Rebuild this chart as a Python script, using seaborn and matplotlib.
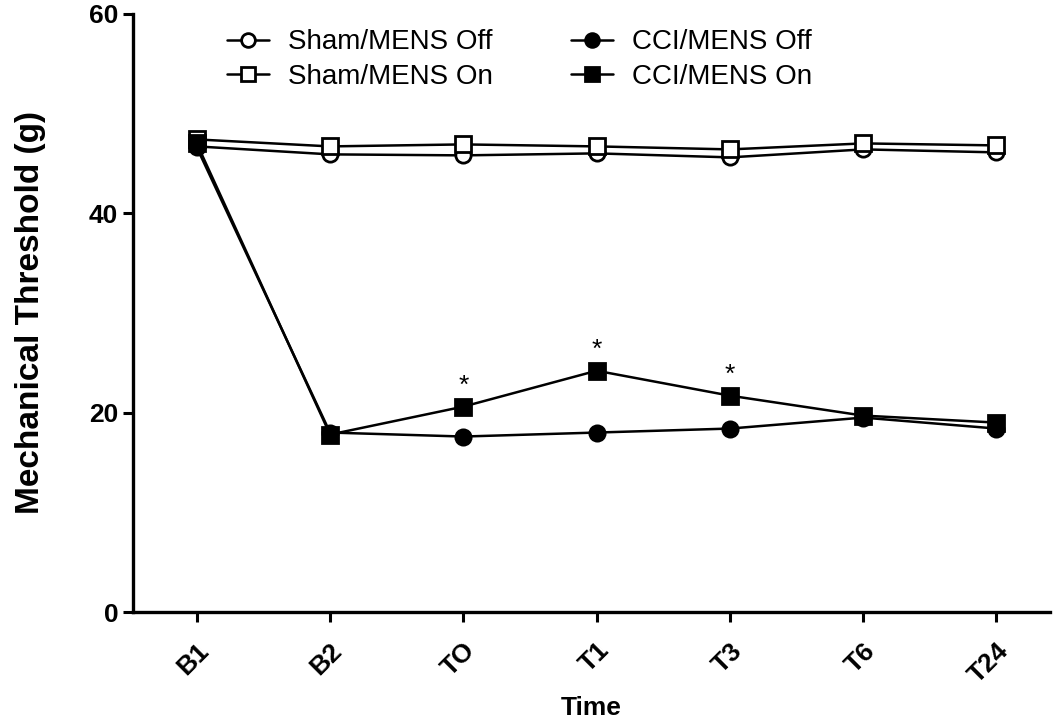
import numpy as np
import pandas as pd
import matplotlib
matplotlib.use("Agg")
import matplotlib.pyplot as plt
import seaborn as sns

# data
times = ["B1", "B2", "TO", "T1", "T3", "T6", "T24"]
sham_off = [46.7, 45.9, 45.8, 46.0, 45.6, 46.4, 46.1]
sham_on = [47.4, 46.7, 46.9, 46.7, 46.4, 47.0, 46.8]
cci_off = [46.6, 18.0, 17.6, 18.0, 18.4, 19.5, 18.4]
cci_on = [47.0, 17.8, 20.6, 24.2, 21.7, 19.7, 19.0]
star_times = ["TO", "T1", "T3"]

series = [
    ("Sham/MENS Off", sham_off, "o", "white"),
    ("Sham/MENS On", sham_on, "s", "white"),
    ("CCI/MENS Off", cci_off, "o", "black"),
    ("CCI/MENS On", cci_on, "s", "black"),
]

sns.set_style("ticks")
plt.rcParams["font.family"] = ["Liberation Sans", "DejaVu Sans"]
for k in ["text.color", "axes.labelcolor", "xtick.color", "ytick.color", "axes.edgecolor"]:
    plt.rcParams[k] = "black"

fig = plt.figure(figsize=(10.54, 7.26), dpi=100)
ax = fig.add_axes([0.126, 0.157, 0.87, 0.824])

for name, vals, mk, fc in series:
    sns.lineplot(x=times, y=vals, ax=ax, sort=False, color="black", lw=1.8,
                 marker=mk, markersize=11, markerfacecolor=fc,
                 markeredgecolor="black", markeredgewidth=2, label=name)

# significance stars above CCI/MENS On
for t in star_times:
    i = times.index(t)
    ax.text(i, cci_on[i] + 0.9, "*", ha="center", va="bottom", fontsize=19)

ax.set_ylim(0, 60)
ax.set_xlim(-0.48, 6.4)
ax.set_yticks([0, 20, 40, 60])
ax.set_xticks(range(len(times)))
ax.set_xticklabels(times, rotation=45, ha="right", rotation_mode="anchor")

for s in ["top", "right"]:
    ax.spines[s].set_visible(False)
for s in ["left", "bottom"]:
    ax.spines[s].set_linewidth(2.4)
ax.tick_params(width=2.2, length=7, labelsize=19)
ax.tick_params(axis="x", pad=12)
for lab in ax.get_xticklabels() + ax.get_yticklabels():
    lab.set_fontweight("bold")

ax.set_xlabel("Time", fontsize=19, fontweight="bold", labelpad=6)
ax.set_ylabel("Mechanical Threshold (g)", fontsize=24, fontweight="bold", labelpad=31)

ax.legend(ncol=2, frameon=False, fontsize=20, loc="upper left",
          bbox_to_anchor=(0.205, 0.975), bbox_transform=fig.transFigure,
          markerscale=0.9, handlelength=1.5, handletextpad=0.7,
          columnspacing=2.8, labelspacing=0.3, borderaxespad=0)

fig.savefig("out.png", dpi=100)
